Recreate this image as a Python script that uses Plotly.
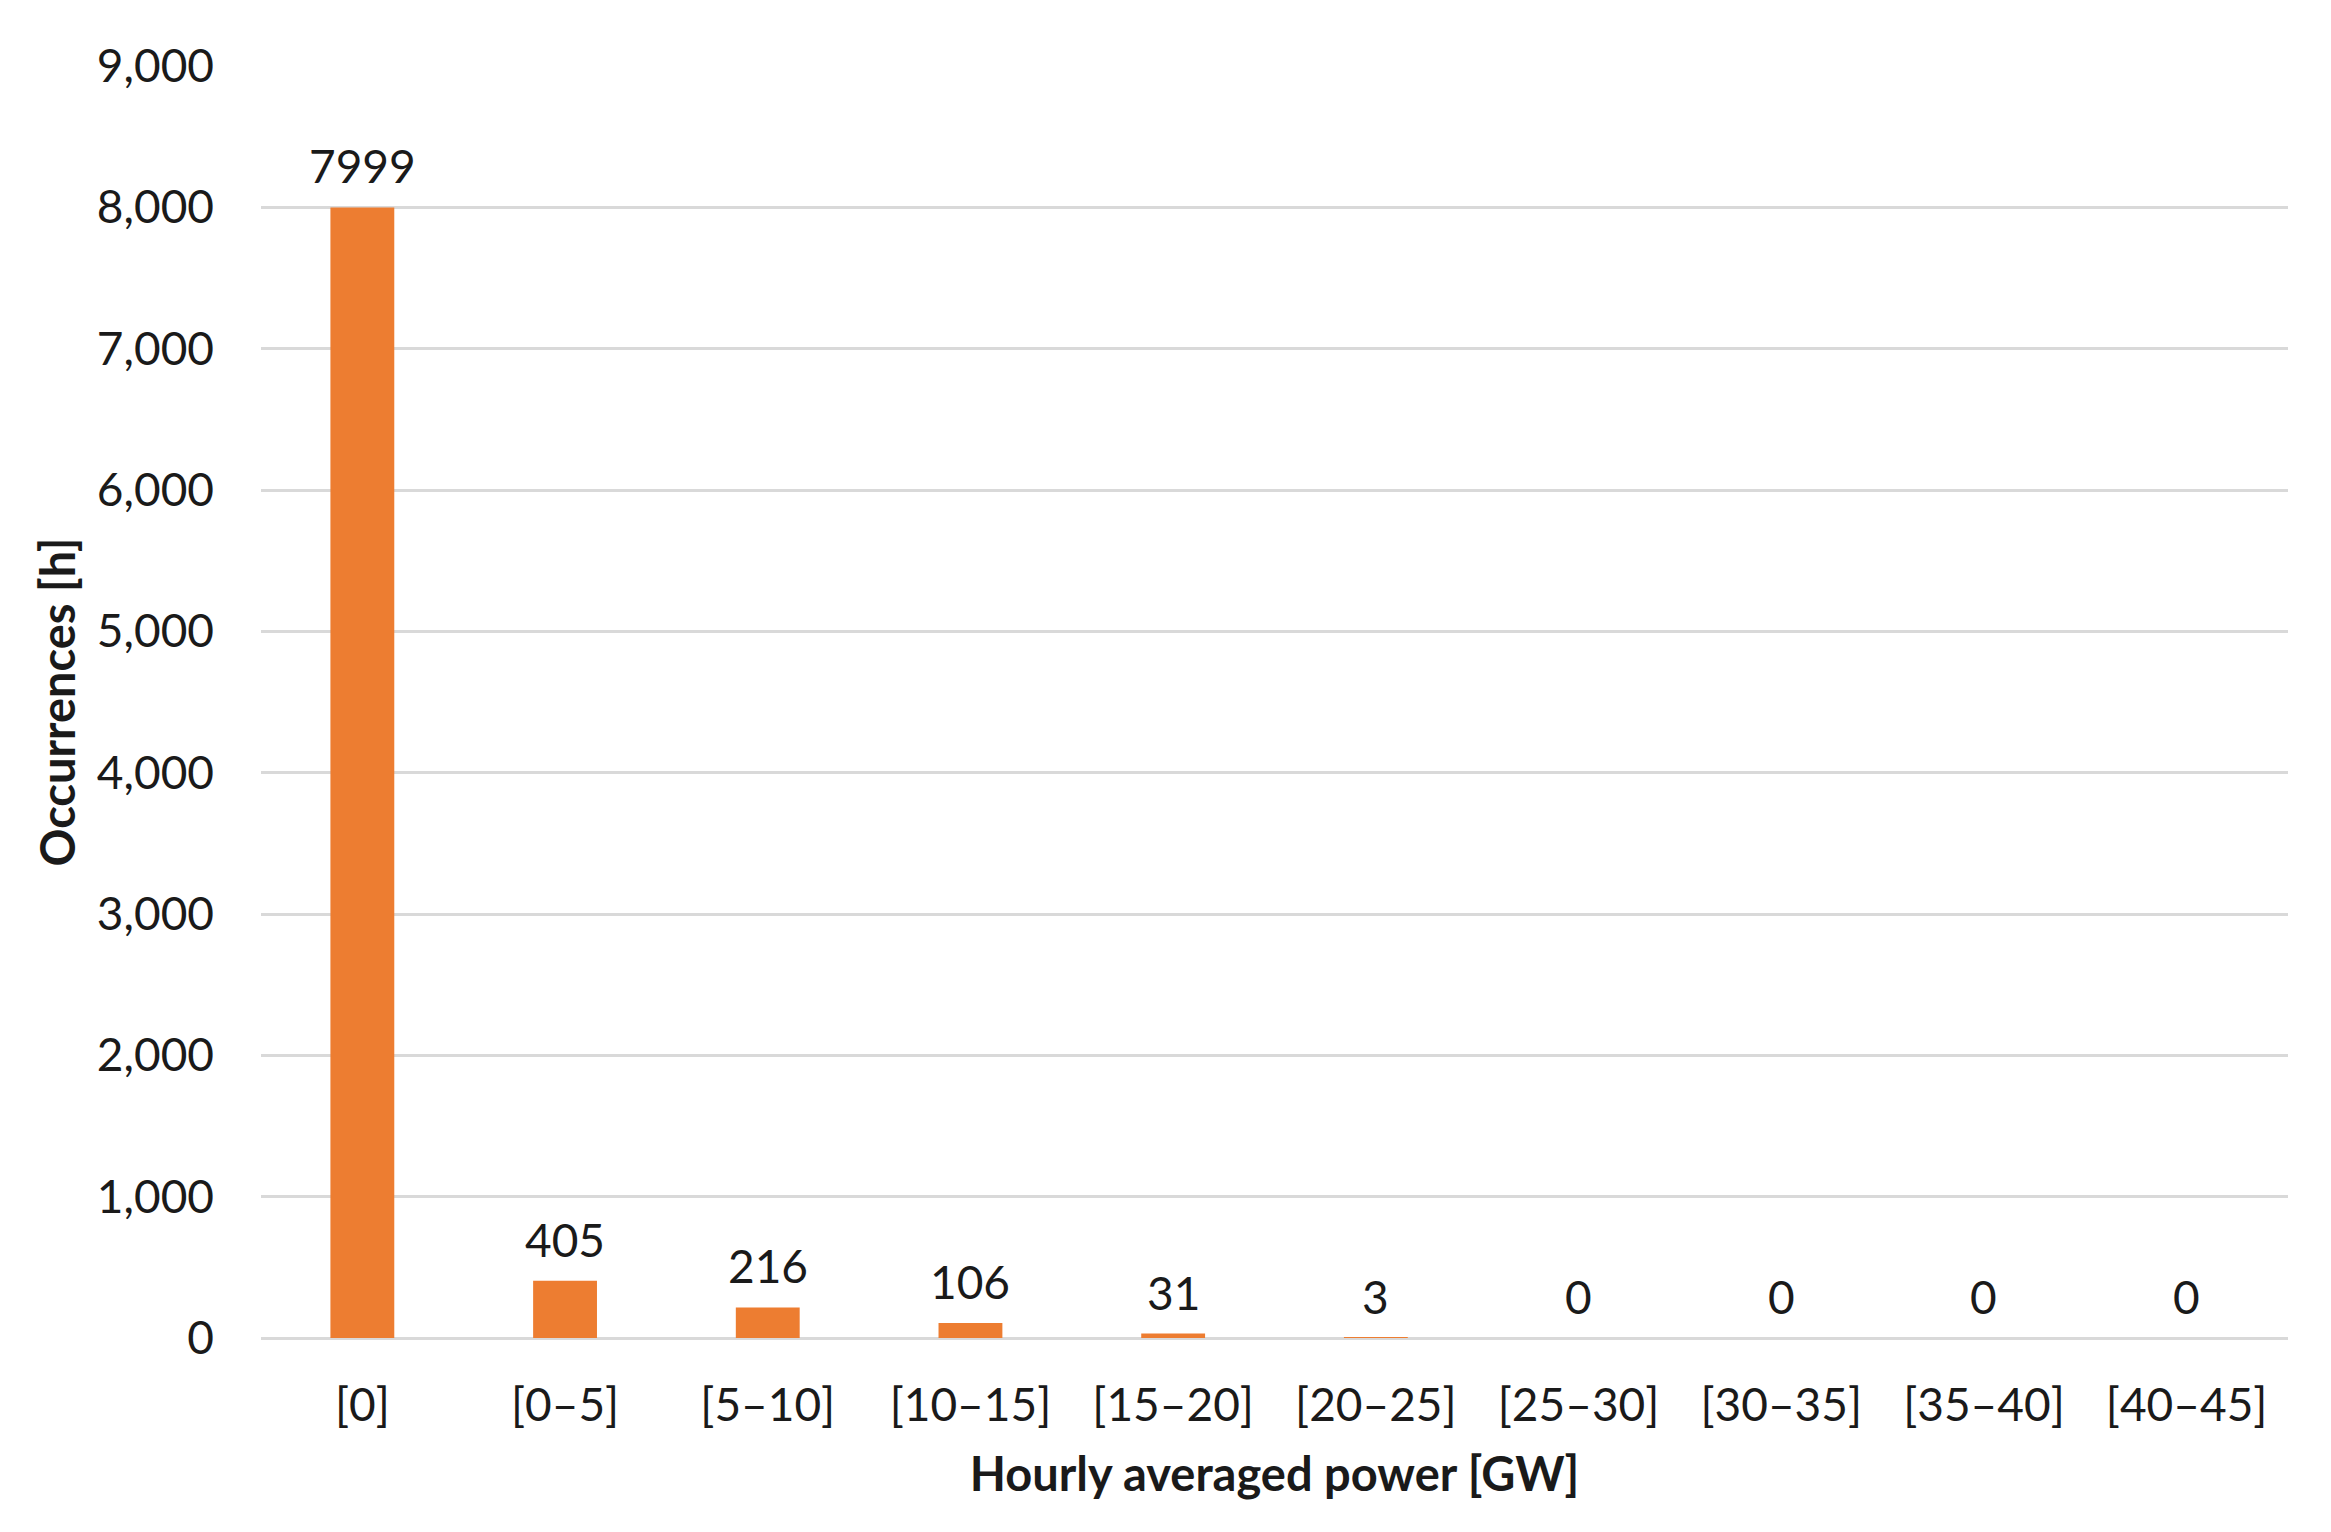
import plotly.graph_objects as go

categories = ["[0]", "[0–5]", "[5–10]", "[10–15]", "[15–20]", "[20–25]", "[25–30]", "[30–35]", "[35–40]", "[40–45]"]
occurrences = [7999, 405, 216, 106, 31, 3, 0, 0, 0, 0]
y_ticks = [0, 1000, 2000, 3000, 4000, 5000, 6000, 7000, 8000, 9000]
y_tick_labels = ["0", "1,000", "2,000", "3,000", "4,000", "5,000", "6,000", "7,000", "8,000", "9,000"]

FONT = "Lato, 'Open Sans', sans-serif"
ORANGE = "#ED7D31"
GRID = "#D9D9D9"
TXT = "#1a1a1a"
TICK_SIZE = 46
TITLE_SIZE = 47

fig = go.Figure()
fig.add_trace(go.Bar(
    x=categories, y=occurrences,
    marker=dict(color=ORANGE, line=dict(width=0)),
    hoverinfo="x+y",
))

for c, v in zip(categories, occurrences):
    fig.add_annotation(x=c, y=v, text=str(v), showarrow=False,
                       yanchor="bottom", yshift=12,
                       font=dict(family=FONT, size=TICK_SIZE, color=TXT))

# page body has an 8px default margin; figure sized to fit the window
fig.update_layout(
    width=2323, height=1524,
    margin=dict(l=253, r=43, t=58, b=194),
    paper_bgcolor="white", plot_bgcolor="white",
    bargap=0.685,
    showlegend=False,
    font=dict(family=FONT, size=TICK_SIZE, color=TXT),
)
fig.update_xaxes(
    showgrid=False, showline=False, zeroline=False,
    ticks="", ticklabelstandoff=36,
    tickfont=dict(family=FONT, size=TICK_SIZE, color=TXT),
    title=dict(text="<b>Hourly averaged power [GW]</b>", standoff=28,
               font=dict(family=FONT, size=TITLE_SIZE, color=TXT)),
)
fig.update_yaxes(
    range=[0, 9000],
    tickvals=y_ticks, ticktext=y_tick_labels,
    showgrid=True, gridcolor=GRID, gridwidth=2.5,
    zeroline=True, zerolinecolor=GRID, zerolinewidth=2.5,
    showline=False, ticks="", ticklabelstandoff=46,
    tickfont=dict(family=FONT, size=TICK_SIZE, color=TXT),
    title=dict(text="<b>Occurrences [h]</b>", standoff=6,
               font=dict(family=FONT, size=TITLE_SIZE, color=TXT)),
)

fig.write_html("out.html")
